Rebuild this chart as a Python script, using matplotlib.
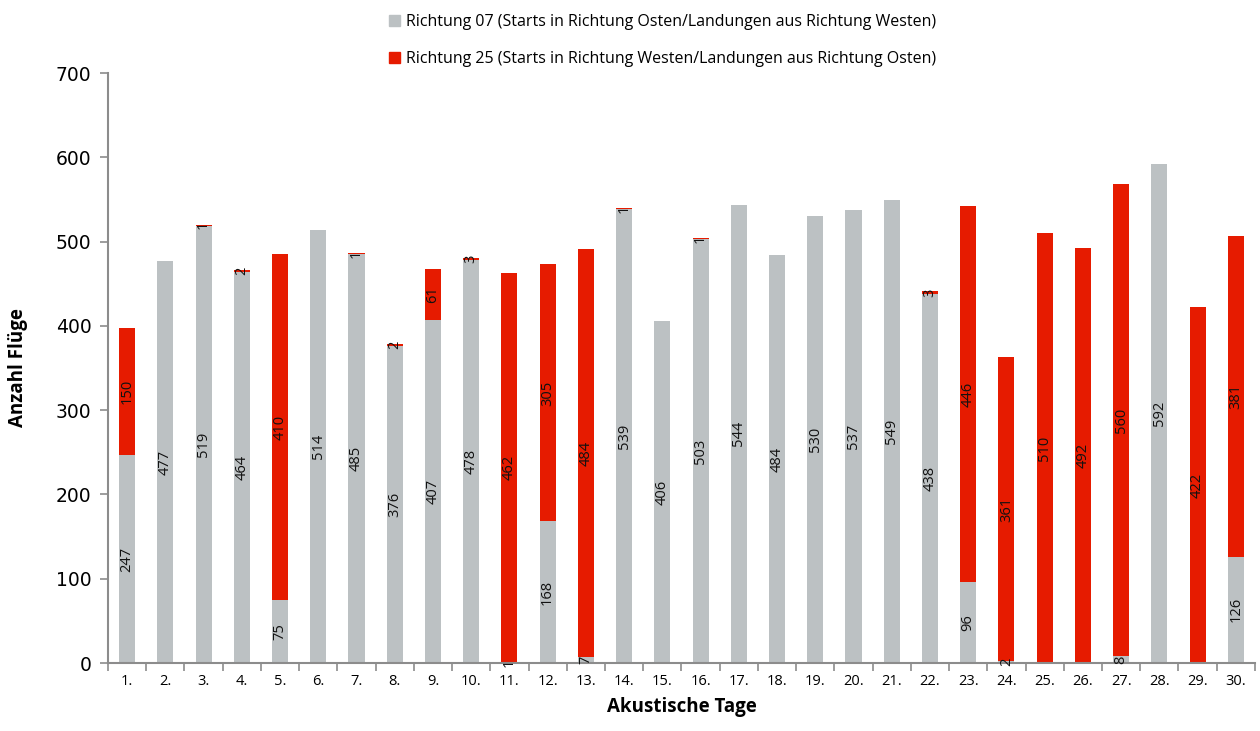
import matplotlib
matplotlib.use("Agg")
import matplotlib.pyplot as plt
from matplotlib.patches import Patch
import numpy as np

days = [f"{i}." for i in range(1, 31)]
richtung07 = [247, 477, 519, 464, 75, 514, 485, 376, 407, 478, 1, 168, 7, 539, 406,
              503, 544, 484, 530, 537, 549, 438, 96, 2, 0, 0, 8, 592, 0, 126]
richtung25 = [150, 0, 1, 2, 410, 0, 1, 2, 61, 3, 462, 305, 484, 1, 0,
              1, 0, 0, 0, 0, 0, 3, 446, 361, 510, 492, 560, 0, 422, 381]
label07 = "Richtung 07 (Starts in Richtung Osten/Landungen aus Richtung Westen)"
label25 = "Richtung 25 (Starts in Richtung Westen/Landungen aus Richtung Osten)"

gray = "#BCC1C3"
red = "#E61B00"
axcol = "#8C8C8C"

plt.rcParams['font.family'] = ['Open Sans', 'DejaVu Sans']

fig = plt.figure(figsize=(12.6, 7.31), dpi=100)
ax = fig.add_axes([0.0857, 0.093, 0.9103, 0.807])

x = np.arange(len(days))
w = 0.42
ax.bar(x, richtung07, w, color=gray, label=label07)
ax.bar(x, richtung25, w, bottom=richtung07, color=red, label=label25)

for xi, g, r in zip(x, richtung07, richtung25):
    if g > 0:
        ax.text(xi, g / 2, str(g), rotation=90, ha='center', va='center', fontsize=10.5, color='#111111')
    if r > 0:
        ax.text(xi, g + r / 2, str(r), rotation=90, ha='center', va='center', fontsize=10.5, color='#111111')

ax.set_xlim(-0.5, len(days) - 0.5)
ax.set_ylim(0, 700)
ax.set_yticks(range(0, 701, 100))
ax.set_xticks(x)
ax.set_xticklabels(days, fontsize=10.5)
ax.set_xticks(np.arange(-0.5, len(days), 1), minor=True)
ax.tick_params(axis='x', which='major', length=0, pad=8)
ax.tick_params(axis='x', which='minor', length=6, color=axcol, width=1.2)
ax.tick_params(axis='y', length=6, color=axcol, width=1.2, labelsize=13.5, pad=6)
for lab in ax.get_yticklabels():
    lab.set_family(['DejaVu Sans'])

for s in ['top', 'right']:
    ax.spines[s].set_visible(False)
for s in ['left', 'bottom']:
    ax.spines[s].set_color(axcol)
    ax.spines[s].set_linewidth(1.5)

ax.set_xlabel("Akustische Tage", fontsize=13.5, fontweight='bold', labelpad=6)
ax.set_ylabel("Anzahl Flüge", fontsize=13.5, fontweight='bold', labelpad=20)

handles = [Patch(color=gray), Patch(color=red)]
fig.legend(handles, [label07, label25], loc='upper left', bbox_to_anchor=(0.297, 1.0),
           frameon=False, fontsize=11.5, handlelength=0.7, handleheight=0.7,
           handletextpad=0.4, labelspacing=1.3)

fig.savefig("out.png", dpi=100)
